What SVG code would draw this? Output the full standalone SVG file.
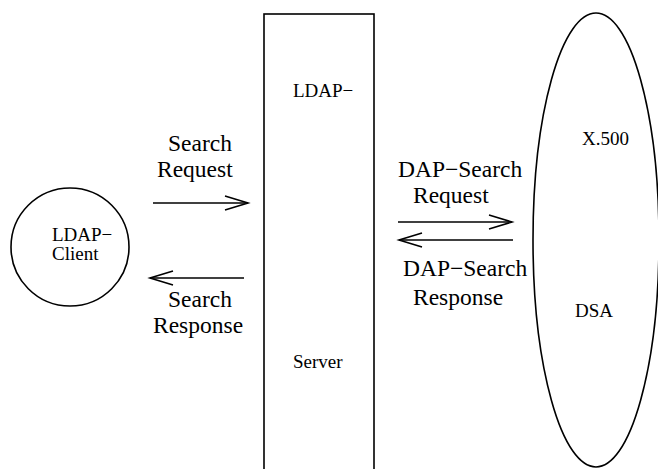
<svg xmlns="http://www.w3.org/2000/svg" width="658" height="469" viewBox="0 0 658 469">
<style>
.shape{fill:none;stroke:#000;stroke-width:1.6}
.big{font-family:"Liberation Serif","Times New Roman",serif;font-size:23.5px;fill:#000}
.small{font-family:"Liberation Serif","Times New Roman",serif;font-size:19px;fill:#000}
.conn{fill:none;stroke:#000;stroke-width:1.6}
</style>
<defs>
<marker id="head" markerUnits="userSpaceOnUse" markerWidth="30" markerHeight="20" refX="24" refY="8" orient="auto" viewBox="0 0 30 16">
<path d="M1,1 L24,8 L1,15" fill="none" stroke="#000" stroke-width="1.6"/>
</marker>
</defs>
<rect width="658" height="469" fill="#fff"/>
<g id="client">
<circle class="shape" cx="70" cy="247" r="59"/>
<text class="small" x="52" y="241">LDAP−</text>
<text class="small" x="52" y="260">Client</text>
</g>
<g id="server">
<rect class="shape" x="264" y="14" width="110" height="470"/>
<text class="small" x="293" y="97">LDAP−</text>
<text class="small" x="293" y="368">Server</text>
</g>
<g id="dsa">
<ellipse class="shape" cx="596" cy="240" rx="63" ry="227"/>
<text class="small" x="582" y="145">X.500</text>
<text class="small" x="575" y="317">DSA</text>
</g>
<g id="connectors">
<line class="conn" x1="153" y1="203" x2="248" y2="203" marker-end="url(#head)"/>
<line class="conn" x1="244" y1="278" x2="150" y2="278" marker-end="url(#head)"/>
<line class="conn" x1="398" y1="222" x2="512" y2="222" marker-end="url(#head)"/>
<line class="conn" x1="513" y1="240" x2="399" y2="240" marker-end="url(#head)"/>
<text class="big" x="168" y="151">Search</text>
<text class="big" x="157" y="177">Request</text>
<text class="big" x="168" y="307">Search</text>
<text class="big" x="153" y="333">Response</text>
<text class="big" x="398" y="177">DAP−Search</text>
<text class="big" x="413" y="203">Request</text>
<text class="big" x="403" y="276">DAP−Search</text>
<text class="big" x="413" y="305">Response</text>
</g>
</svg>
